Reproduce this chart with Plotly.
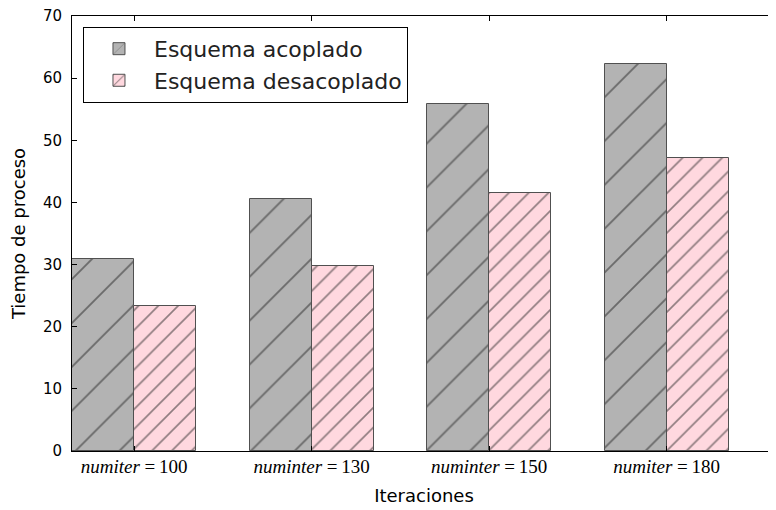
import numpy as np
import plotly.graph_objects as go

categories = ["<i>numiter</i> =\u2009100", "<i>numinter</i> =\u2009130",
              "<i>numinter</i> =\u2009150", "<i>numiter</i> =\u2009180"]
acoplado = [30.9, 40.5, 55.9, 62.2]
desacoplado = [23.4, 29.7, 41.5, 47.1]
series_names = ["Esquema acoplado", "Esquema desacoplado"]

idx = np.arange(len(categories))
w = 0.35

fig = go.Figure()
fig.add_trace(go.Bar(
    x=idx, y=acoplado, width=w, offset=0, name=series_names[0],
    marker=dict(color="#b3b3b3", line=dict(color="#505050", width=1),
                pattern=dict(shape="/", fgcolor="#222222", bgcolor="#b3b3b3",
                             size=31, solidity=0.06, fillmode="overlay")),
))
fig.add_trace(go.Bar(
    x=idx, y=desacoplado, width=w, offset=w, name=series_names[1],
    marker=dict(color="#ffd8df", line=dict(color="#505050", width=1),
                pattern=dict(shape="/", fgcolor="#222222", bgcolor="#ffd8df",
                             size=14, solidity=0.12, fillmode="overlay")),
))

# page body has an 8px margin; compensate so the plot sits where the reference's does
fig.update_layout(
    width=768, height=502,
    margin=dict(l=64, r=0, t=8, b=59),
    plot_bgcolor="white", paper_bgcolor="white",
    font=dict(family="DejaVu Sans", color="black", size=14),
    showlegend=True,
    legend=dict(x=0.0156, y=0.975, xanchor="left", yanchor="top",
                bordercolor="black", borderwidth=1, bgcolor="white",
                font=dict(size=22, family="DejaVu Sans", color="#222222"),
                tracegroupgap=0, itemwidth=60),
    bargap=0,
)
fig.update_xaxes(
    range=[0, 3.966], tickvals=idx + w, ticktext=categories,
    ticks="inside", ticklen=5, tickcolor="black",
    showline=True, linecolor="black", linewidth=1, mirror="ticks",
    showgrid=False, zeroline=False, automargin=False,
    tickfont=dict(family="Liberation Serif", size=19), ticklabelstandoff=-2,
    title=dict(text="Iteraciones", font=dict(size=18), standoff=13),
)
fig.update_yaxes(
    range=[0, 70], dtick=10,
    ticks="inside", ticklen=5, tickcolor="black",
    showline=True, linecolor="black", linewidth=1, mirror="ticks",
    showgrid=False, zeroline=False, automargin=False,
    tickfont=dict(size=15), ticklabelstandoff=6, ticklabeloverflow="allow",
    title=dict(text="Tiempo de proceso", font=dict(size=18), standoff=14),
)

fig.write_html("out.html")
